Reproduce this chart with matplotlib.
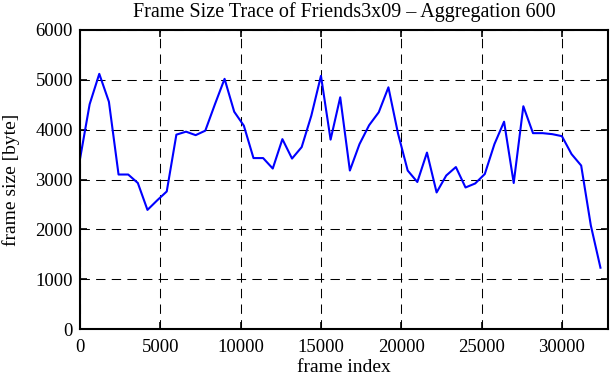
import matplotlib.pyplot as plt

step = 600
frame_size = [3410, 4510, 5120, 4560, 3100, 3100, 2930, 2390, 2580, 2760,
              3900, 3960, 3890, 3980, 4510, 5020, 4360, 4080, 3430, 3430,
              3220, 3810, 3420, 3650, 4280, 5080, 3800, 4650, 3180, 3710,
              4090, 4350, 4850, 3920, 3180, 2950, 3540, 2740, 3080, 3250,
              2840, 2920, 3110, 3710, 4160, 2930, 4470, 3930, 3930, 3910,
              3870, 3510, 3280, 2080, 1230]
frame_index = [i * step for i in range(len(frame_size))]

plt.rcParams['font.family'] = ['Liberation Serif', 'DejaVu Serif']

fig = plt.figure(figsize=(6.11, 3.80), dpi=100)
ax = fig.add_axes([80 / 611, 51 / 380, 528 / 611, 299 / 380])

ax.plot(frame_index, frame_size, color='#0000ff', lw=1.5)

ax.set_xlim(0, 32870)
ax.set_ylim(0, 6000)
ax.set_xticks(range(0, 30001, 5000))
ax.set_yticks(range(0, 6001, 1000))
ax.grid(True, color='black', linestyle=(0, (9, 6)), linewidth=0.75)
ax.tick_params(direction='in', length=5, width=1.2, top=True, right=True,
               labelsize=13.5)
ax.tick_params(axis='x', pad=7)
ax.tick_params(axis='y', pad=5)
for s in ax.spines.values():
    s.set_linewidth(1.5)

ax.set_xlabel('frame index', fontsize=14, labelpad=2)
ax.set_ylabel('frame size [byte]', fontsize=14, labelpad=11)
ax.set_title('Frame Size Trace of Friends3x09 \u2013 Aggregation 600', fontsize=14.5, pad=9)

fig.savefig('out.png', dpi=100)
